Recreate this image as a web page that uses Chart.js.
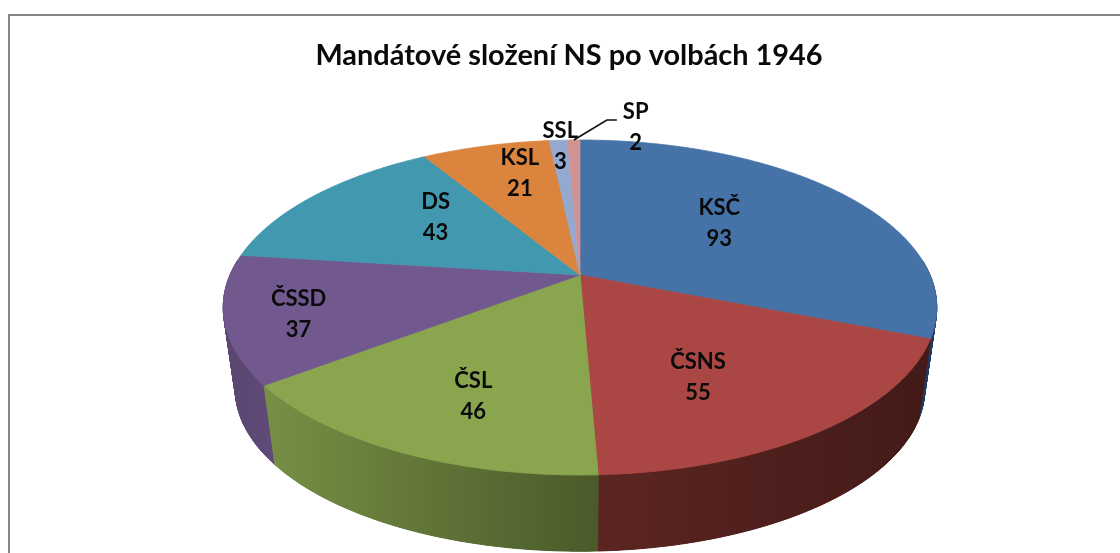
<!DOCTYPE html>
<html lang="cs">
<head>
<meta charset="utf-8">
<title>Mandátové složení NS po volbách 1946</title>
<script src="https://cdn.jsdelivr.net/npm/chart.js@4"></script>
<style>
html,body{margin:0;padding:0;background:#fff;overflow:hidden}
#wrap{position:relative;width:1120px;height:553px}
canvas{display:block;filter:blur(0.45px)}
</style>
</head>
<body>
<div id="wrap"><canvas id="c" width="1120" height="553"></canvas></div>
<script>
const titleText = 'Mandátové složení NS po volbách 1946';
const parties = ['KSČ','ČSNS','ČSL','ČSSD','DS','KSL','SSL','SP'];
const seats = [93,55,46,37,43,21,3,2];
const topColors = ['#4572A7','#AA4643','#89A54E','#71588F','#4198AF','#DB843D','#93A9CF','#D19392'];
const wallFrom = ['#1f3a5c','#5c2522','#778f45','#5a4670','#265a68','#83501f','#586580','#7d5857'];
const wallTo   = ['#1f3a5c','#431a18','#4a5a2a','#614a78','#265a68','#83501f','#586580','#7d5857'];
const labelNudgeX = [2,8,-25,-108,-5,-9,-8,59];
const labelNudgeY = [-9,31,41,18,-16,-32,-55,-74];

/* perspective projection of the flat pie on to the page */
const view = {cx:580, topY:275, a:350, b:161.2, k:0.194, baseScale:0.966, baseY:358};
function proj(th, f, base){
  const u = Math.cos(th)*f, v = Math.sin(th)*f, w = 1 - view.k*v;
  const s = base ? view.baseScale : 1, y0 = base ? view.baseY : view.topY;
  return [view.cx + view.a*s*u/w, y0 + view.b*s*v/w];
}
function arcAngles(a0, a1){
  const n = Math.max(2, Math.ceil((a1-a0)/0.01)), out = [];
  for(let i=0;i<=n;i++) out.push(a0+(a1-a0)*i/n);
  return out;
}
function arcPts(a0, a1, base){ return arcAngles(a0,a1).map(th=>proj(th,1,base)); }
function lineThrough(ctx, pts){ pts.forEach(p=>ctx.lineTo(p[0],p[1])); }

const pie3d = {
  id:'pie3d',
  beforeDraw(chart){
    const ctx = chart.ctx;
    ctx.save();
    ctx.fillStyle = '#fff';
    ctx.fillRect(0,0,chart.width,chart.height);
    ctx.strokeStyle = '#868686';
    ctx.lineWidth = 2;
    ctx.beginPath();
    ctx.moveTo(9,chart.height); ctx.lineTo(9,15); ctx.lineTo(chart.width,15);
    ctx.stroke();
    ctx.restore();
  },
  beforeDatasetDraw(chart, args){
    const ctx = chart.ctx, arcs = chart.getDatasetMeta(args.index).data;
    ctx.save();
    /* side walls, back slices first; the far side of the rim is never visible */
    const order = arcs.map((a,i)=>i).sort((p,q)=>
      Math.sin((arcs[p].startAngle+arcs[p].endAngle)/2) - Math.sin((arcs[q].startAngle+arcs[q].endAngle)/2));
    order.forEach(i=>{
      const a = arcs[i];
      const ths = arcAngles(a.startAngle,a.endAngle).filter(th=>Math.sin(th) > -0.1);
      if(ths.length < 2) return;
      const t = ths.map(th=>proj(th,1,false)), b = ths.map(th=>proj(th,1,true));
      const xs = arcPts(a.startAngle,a.endAngle,false).concat(arcPts(a.startAngle,a.endAngle,true)).map(p=>p[0]);
      const g = ctx.createLinearGradient(Math.min(...xs),0,Math.max(...xs),0);
      g.addColorStop(0,wallFrom[i]);
      g.addColorStop(1,wallTo[i]);
      ctx.fillStyle = g; ctx.strokeStyle = g; ctx.lineWidth = 1;
      /* solid body of the wall */
      ctx.beginPath(); ctx.moveTo(t[0][0],t[0][1]); lineThrough(ctx,t); lineThrough(ctx,b.slice().reverse()); ctx.closePath(); ctx.fill();
      /* rim quads fill in the silhouette where the wall turns away */
      for(let s=0;s<t.length-1;s++){
        ctx.beginPath();
        ctx.moveTo(t[s][0],t[s][1]); ctx.lineTo(t[s+1][0],t[s+1][1]);
        ctx.lineTo(b[s+1][0],b[s+1][1]); ctx.lineTo(b[s][0],b[s][1]);
        ctx.closePath(); ctx.fill(); ctx.stroke();
      }
    });
    /* top faces */
    arcs.forEach((a,i)=>{
      ctx.fillStyle = topColors[i]; ctx.strokeStyle = topColors[i]; ctx.lineWidth = 0.8;
      ctx.beginPath(); ctx.moveTo(view.cx,view.topY); lineThrough(ctx,arcPts(a.startAngle,a.endAngle,false)); ctx.closePath();
      ctx.fill(); ctx.stroke();
    });
    ctx.restore();
    return false;
  },
  afterDatasetsDraw(chart){
    const ctx = chart.ctx, arcs = chart.getDatasetMeta(0).data;
    ctx.save();
    /* leader line for the SP slice */
    const sp = arcs[arcs.length-1], rim = proj((sp.startAngle+sp.endAngle)/2,1,false);
    ctx.strokeStyle = '#111'; ctx.lineWidth = 1.7;
    ctx.beginPath();
    ctx.moveTo(rim[0],rim[1]); ctx.lineTo(rim[0]+33,rim[1]-20); ctx.lineTo(rim[0]+43,rim[1]-20);
    ctx.stroke();
    /* data labels */
    ctx.fillStyle = '#0a0a0a'; ctx.textAlign = 'center'; ctx.textBaseline = 'middle';
    ctx.font = 'bold 22px Lato, "Noto Sans", sans-serif';
    arcs.forEach((a,i)=>{
      const p = proj((a.startAngle+a.endAngle)/2,0.5,false);
      const x = p[0]+labelNudgeX[i], y = p[1]+labelNudgeY[i];
      ctx.fillText(parties[i],x,y-15.5);
      ctx.fillText(String(seats[i]),x,y+15.5);
    });
    ctx.restore();
  }
};

new Chart(document.getElementById('c'),{
  type:'pie',
  plugins:[pie3d],
  data:{labels:parties,datasets:[{data:seats,backgroundColor:topColors,borderWidth:0}]},
  options:{
    responsive:false,animation:false,
    layout:{padding:{left:18}},
    plugins:{
      legend:{display:false},
      tooltip:{enabled:false},
      title:{display:true,text:titleText,color:'#0a0a0a',
        font:{family:'Lato, "Noto Sans", sans-serif',size:28.9,weight:'bold'},
        padding:{top:38,bottom:0}}
    }
  }
});
</script>
</body>
</html>
